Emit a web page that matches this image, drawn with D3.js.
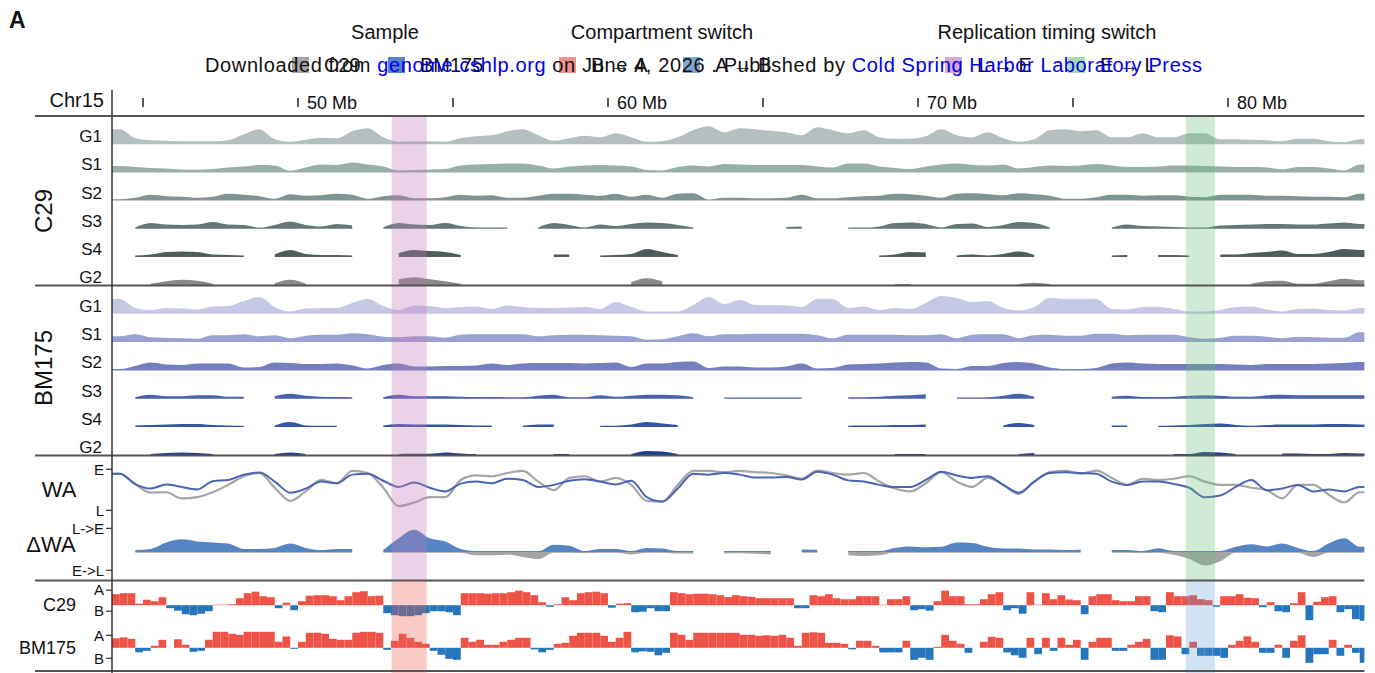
<!DOCTYPE html>
<html>
<head>
<meta charset="utf-8">
<script src="https://cdn.jsdelivr.net/npm/d3@7"></script>
<style>
  body { margin: 0; background: #fff; }
  text { font-family: "Liberation Sans", Arial, Helvetica, sans-serif; fill: #111; }
</style>
</head>
<body>
<svg id="chart" width="1375" height="673"></svg>
<script>
// Chr15 region, 0.5 Mb bins starting at 44 Mb (Repli-seq signal, WA, dWA)
const binStart = 44.0;
const binSize = 0.5;
// compartment eigenvector bins of 0.25 Mb
const compBinSize = 0.25;

const phases = ["G1", "S1", "S2", "S3", "S4", "G2"];

const c29G1 = [14,5,3,2.5,2,2,2,3,9,14, 4,1.5,3.5,5.5,5,12,15,6,1.5,2, 2,1.5,5,7,8,12,14,8,2.5,5, 7.5,6,10,6,1.5,2,6,13,17,11, 15,14,12.5,11,8,16,13,10,13,6, 4.5,4.5,7,14,8,6,11,5,1.5,4, 13,14,12,13,6,6,10,6,6,10, 10,4,4,3.5,3,2,4.5,4.5,2,1, 4];
const c29S1 = [5.5,4.5,3.5,3,2,1.8,2.5,4,5,6.5, 6,0.8,4,7,6.5,9,7,5,1,1.5, 2,2.5,6,7,7.5,8,8,6,3,5, 6,6.5,6,5,1.5,1,4.5,6,5,7.5, 7,6.5,6.5,6.5,6.5,5,4,8,8,5, 3.5,2.5,5,7,8,6.5,6,7,3,4.5, 6,5.5,6,7.5,6,4.5,4.5,5,6,6, 5.5,5,4.5,4.5,4,2,4.5,4.5,3,1, 7];
const c29S2 = [0.5,2,5,3.5,3,2,3,6,5,3.5, 1,5.5,4,4.5,6,5,1,3.5,4.5,1.5, 1.5,2.5,5,4,4.5,2,2,4,6,6, 5,4,6,3,5,2,6,6.5,0.3,2, 2,1.5,1.5,2,5,1.5,1.5,2.5,3.5,4, 6,5.5,4,2,6,6.5,5.5,4.5,6.5,5.5, 4,1,1,2.5,5,5,4,4.5,4.5,3, 2.5,5,5,5,4,4,3.5,3,3,2.5, 6];
const c29S3 = [null,0.5,5,3.5,3,3.5,6,3.5,3,0.3, 3,6.5,3,1.5,4,2.5,null,0.5,5,3.5, 3,5,2,0.5,0.5,0.3,null,0.5,5,3, 0.5,3.5,2,4,5.5,5,3,0.5,null,0.3, null,0.3,null,1,1.5,null,null,0.3,0.3,1.5, 5,5.5,4,0.5,4,4.5,1,3,6,5, 0.5,null,null,null,0.5,3.5,2,1.5,1,0.5, 0.5,2.5,3,3.5,4,4,3.5,3.5,4.5,5.5, 4];
const c29S4 = [null,0.5,1.5,4,4.5,4,1.5,1,0.5,null, 1.5,6,2,1,1,0.5,null,null,3,6, 5,4,1,null,null,null,null,null,1.5,1.5, null,0.5,1,2,7,4,1,null,null,null, null,null,null,null,0.3,null,null,null,null,0.5, 1.5,4,3.5,null,0.5,1.5,0.5,2,4.5,1, null,null,null,null,0.5,1,null,1,1,0.5, null,1.5,1.5,3,4,5.5,2,2,4,7, 6];
const c29G2 = [null,null,0.5,3,4.5,3.5,0.5,null,null,null, 1,4.5,0.5,null,null,null,null,null,5,7, 5,3,0.5,null,null,null,null,null,null,null, null,null,null,2,6,3,null,null,null,null, null,null,null,null,null,null,null,null,null,null, 0.3,0.3,null,null,null,null,null,null,0.3,1.5, 0.3,null,null,null,null,null,null,null,null,null, null,null,null,0.5,3,3.5,0.5,0.5,3,5.5, 4];

const bmG1 = [14,5,3,5,4.5,3.5,6.5,7,12,16, 6,1.5,4.5,5,5,10,14,7,3,7.5, 7,5,6,6.5,4,7.5,6,5,5,5.5, 6,4,11,6,1.5,1.5,1.5,8,16,9, 13,8,8,7.5,6,14,14,5,6.5,3, 5,4,10,17,15,11,12,5,2.5,6, 15,14,14,14,4,3.5,6,6,4,1.5, 1.5,3,6,6.5,3.5,1.5,4,4.5,3,2.5, 5];
const bmS1 = [5,7,4,3.5,3,2.5,6,6,7,5, 6,3,5.5,6.5,6.5,8,7,4.5,4,5, 5,3.5,6.5,7,7,7,7,5,6,6.5, 6.5,6,5.5,5,1.5,2,5,8,5,7, 7,7.5,7.5,7.5,7.5,6,3,6.5,6.5,6.5, 6.5,6,6,7,3,6.5,7,7,3,6, 6.5,5.5,5.5,7.5,7.5,6,6.5,6.5,6.5,4, 2.5,3.5,5.5,5.5,4.5,3,4.5,4,3.5,3.5, 9];
const bmS2 = [0.5,3.5,7,5,4.5,6,6,6,2,2.5, 7,6.5,5.5,5.5,6,4,1,4.5,6,3, 3,3.5,3.5,4,6,4.5,6,6.5,6.5,6.5, 6,6.5,7,2.5,6,6,7.5,8,1.5,3, 3,2,2,3,6,1,1.5,5,5.5,6, 7,7.5,7,1,0.5,3.5,3.5,6.5,7.5,6, 2,0.5,0.5,1.5,6,7,6,5.5,5.5,5.5, 5.5,5.5,5,4.5,5.5,5.5,5.5,5.5,6,6.5, 7.5];
const bmS3 = [null,0.5,3,1.5,1.5,2.5,2.5,1,1,null, 1.5,4,2,1,0.7,0.5,null,0.5,3,1.5, 1.5,1.5,1,0.7,0.7,0.5,0.5,2,3,0.5, 0.5,2.5,1,2,3,3,2.5,0.5,null,0.3, 0.3,0.3,0.3,0.3,0.3,null,null,0.5,0.5,1, 2,2.5,3.5,null,0.3,0.3,0.5,2,4,1, null,null,null,null,1,2,0.7,0.7,1,2, 2.5,2,1,1,2.5,3,2.5,2.5,2.5,2.5, 2.5];
const bmS4 = [null,0.5,1,1.5,2,2,1,0.5,0.3,null, 0.5,4,0.7,0.3,0.3,null,null,0.5,2,1.5, 1.5,1.5,1,0.5,0.5,null,0.3,1.5,1.5,null, null,0.3,0.3,1.5,4,2.5,1,null,null,null, null,null,null,null,null,null,null,0.3,0.5,0.5, 1,1,1.5,null,null,null,null,0.5,3,1, null,null,null,null,0.5,0.5,null,0.3,0.5,1, 2,2.5,1,0.3,1,1.5,1.5,1.5,2,2, 1.5];
const bmG2 = [null,null,0.3,1.5,2,1.5,0.3,null,null,null, 0.3,2,0.5,null,null,null,null,null,0.5,0.7, 0.7,2,1,0.3,null,null,null,null,0.3,0.3, null,null,null,0.5,3.5,3,0.5,null,null,null, null,null,null,null,null,null,null,null,null,null, 0.3,0.5,0.3,null,null,null,null,null,0.5,1.5, null,null,null,null,null,null,null,null,0.3,0.5, 2.5,2,0.3,null,null,1,1,0.5,0.5,1.5, 1];

// weighted average replication timing (1 = early, 0 = late)
const waC29 = [0.89,0.64,0.43,0.44,0.29,0.32,0.44,0.62,0.83,0.91, 0.55,0.23,0.46,0.74,0.66,0.96,0.91,0.55,0.10,0.19, 0.32,0.32,0.74,0.85,0.83,0.91,0.96,0.70,0.49,0.79, 0.83,0.70,0.79,0.62,0.23,0.21,0.62,0.96,0.96,0.93, 0.96,0.93,0.91,0.85,0.77,0.97,0.91,0.87,0.91,0.70, 0.53,0.46,0.66,0.93,0.70,0.57,0.79,0.62,0.40,0.70, 0.93,0.96,0.89,0.97,0.79,0.62,0.77,0.74,0.77,0.83, 0.70,0.62,0.62,0.55,0.49,0.29,0.62,0.62,0.38,0.19, 0.44];
const waBM175 = [0.89,0.64,0.53,0.63,0.57,0.51,0.71,0.74,0.87,0.92, 0.70,0.43,0.53,0.70,0.66,0.87,0.89,0.72,0.57,0.68, 0.55,0.46,0.65,0.70,0.66,0.77,0.74,0.57,0.62,0.72, 0.76,0.70,0.63,0.72,0.32,0.21,0.53,0.89,0.87,0.91, 0.87,0.80,0.80,0.81,0.75,0.94,0.87,0.73,0.70,0.62, 0.57,0.57,0.74,0.94,0.85,0.79,0.83,0.62,0.43,0.70, 0.91,0.93,0.91,0.89,0.70,0.62,0.70,0.70,0.64,0.55, 0.32,0.36,0.57,0.74,0.49,0.53,0.62,0.46,0.51,0.46, 0.57];
const deltaWA = [null,0.05,0.1,0.4,0.55,0.45,0.4,0.35,0.1,0.1, 0.15,0.35,0.15,0.05,0.1,0.1,null,0.05,0.6,1.0, 0.6,0.45,0.1,-0.12,-0.12,-0.1,-0.2,-0.3,0.3,0.25, -0.03,0.1,0.1,-0.08,0.15,0.12,-0.04,-0.04,null,-0.04, -0.03,-0.05,-0.08,null,0.07,0.06,null,-0.12,-0.15,-0.12, 0.15,0.22,0.18,0.2,0.4,0.38,0.2,0.12,0.12,0.08, 0.08,0.05,0.06,null,0.05,0.05,-0.03,0.13,-0.1,-0.3, -0.6,-0.4,0.2,0.32,0.22,0.35,0.15,-0.2,0.35,0.6, 0.2];
const deltaTicks = [{ label: "L->E", v: 1.1 }, { label: "E->L", v: -0.86 }];

// compartment PC1 (x100)
const compC29 = [11,12,12,1.5,5.5,4,8,-3,-5.5,-9, -10,-8.5,-6,0.5,0.5,1,7,12,13.5,9, 8,-3,2.5,-5,4,9.5,10,10,9,5, 9,13,14,9,9.5,-8,-10,-11,-11,-10, -8,-6,-6,-7,-10,12,12,12,11.5,12, 12,13,14.5,13,10,3,-1.5,1,8,5, 12,13,13.5,12,-2.5,1.5,2,-7,-6.5,-3, -6,-6,13,12,11,11.5,11.5,11,10,8, 10,9,8.5,7,7,7,7,7,-3,-3, 10,9,11,7,6,6,9,9,9,0.5, 6,6,9,-5,-4,-5.5,4,14.5,9,9, 1,1,6,11,13,-5,-3,-8.5,13,0.5, 12,6,10,5.7,5,-9,9,11,11,5, 4,4,9,9,-6,-7,13,9,9,10, 6,5,-1.5,9,9,11,7.5,7,-2,3, -6,-7,2,13,-15,3.5,8,9,-7,-4, -14,-15.5];
const compBM175 = [9.5,10.5,9,-4.5,-3,2,8,0,8.5,3, -4,-3,8,16,16,14,13,16,16,16, 16,6,11.4,-1,6,15,15,14,9,8, 8,15,16,16,15,-2,7,14,10,6, 4,-3,-7,-11,-12,10,6,8,3,3, 6,8,10,10,-1.5,-4.5,-2,4,5,12, 15,15,15,12,6,10,16,-4.5,-3.5,-4, -7.5,-5,15,13,8,15,15,15,15,15, 15,13,13,12,12.5,12,13,10,2,15, 15.5,15,5,5,4,-1.5,7,7,2,-4.6, -4.6,-4.6,7,-12,-10,-12,1,13,7,4, -5,0,6,11,10,-4.6,-7.5,-10,10,-6.4, 10,-3,10,3,8,-12,6,10,10,-3, -3,3,6,9,-12,-12,12.5,11.4,-6.4,6, -8,-8,-8,-10,3,7,11.4,6,-5,-5, 3,-10,7,12.5,-15,-6.4,-6.4,8,-8,3, -5,-15];
const compTicks = { C29: { A: 15, B: -6 }, BM175: { A: 12.5, B: -10.5 } };

// switching regions (Mb)
const rtSwitches = [{ start: 53.02, end: 54.15, type: "L → E" }, { start: 78.64, end: 79.58, type: "E → L" }];
const compSwitches = [{ start: 53.02, end: 54.15, type: "B → A" }, { start: 78.64, end: 79.58, type: "A → B" }];

const axisTicks = [45, 50, 55, 60, 65, 70, 75, 80];
const axisLabels = [50, 60, 70, 80];

// colours
const c29Colors = ["#b3c0bf", "#9aaeab", "#7d9594", "#637977", "#4c5d5b", "#8a8a8a"];
const bmColors = ["#c5c9e6", "#9aa2d3", "#7480bd", "#4a62ad", "#3454a4", "#1f3f95"];
const switchFill = {
    "L → E": "rgba(190,120,185,0.33)",
    "E → L": "rgba(100,190,110,0.30)",
    "B → A": "rgba(240,90,80,0.32)",
    "A → B": "rgba(90,150,210,0.28)"
};

var svg = d3.select("#chart");

var x = d3.scaleLinear().domain([44.0, 84.4]).range([112, 1364.4]);
const plotLeft = 112, plotRight = 1364.4, lineLeft = 35;

// points at bin centres, stretched to the panel edges
function trackPoints(values) {
    const pts = values.map((v, k) => ({ mb: binStart + binSize * k + binSize / 2, v: v }));
    pts.unshift({ mb: x.domain()[0], v: values[0] });
    pts.push({ mb: x.domain()[1], v: values[values.length - 1] });
    return pts;
}

// ---- Title / legend ----
svg.append("text").attr("x", 9).attr("y", 28)
    .style("font-size", "23px").style("font-weight", "bold").text("A");

const legendGroups = [
    { title: "Sample", cx: 385, items: [{ label: "C29", color: "#a6a6a6", sx: 292 }, { label: "BM175", color: "#5585c5", sx: 388 }] },
    { title: "Compartment switch", cx: 662, items: [{ label: "B → A", color: "#f3928b", sx: 559 }, { label: "A → B", color: "#7ba7d2", sx: 683 }] },
    { title: "Replication timing switch", cx: 1047, items: [{ label: "L → E", color: "#d6a9d4", sx: 945 }, { label: "E → L", color: "#a9d9b2", sx: 1068 }] }
];

legendGroups.forEach(g => {
    svg.append("text").attr("x", g.cx).attr("y", 39)
        .style("font-size", "20px").style("text-anchor", "middle").text(g.title);
    g.items.forEach(it => {
        svg.append("rect").attr("x", it.sx).attr("y", 57).attr("width", 17).attr("height", 16)
            .attr("fill", it.color);
        svg.append("text").attr("x", it.sx + 32).attr("y", 72)
            .style("font-size", "20px").text(it.label);
    });
});

// download stamp that sits over the legend in the original figure
var stamp = svg.append("text").attr("x", 205).attr("y", 72)
    .style("font-size", "20px").attr("textLength", 997).attr("lengthAdjust", "spacing");
stamp.append("tspan").text("Downloaded from ");
stamp.append("tspan").style("fill", "#0000ee").text("genome.cshlp.org");
stamp.append("tspan").text(" on June 4, 2026 . Published by ");
stamp.append("tspan").style("fill", "#0000ee").text("Cold Spring Harbor Laboratory Press");

// ---- Genome axis ----
svg.append("text").attr("x", 104).attr("y", 107)
    .style("font-size", "20px").style("text-anchor", "end").text("Chr15");

svg.selectAll(".tick").data(axisTicks).enter().append("line")
    .attr("class", "tick")
    .attr("x1", d => x(d)).attr("x2", d => x(d))
    .attr("y1", 98).attr("y2", 107)
    .attr("stroke", "#222").attr("stroke-width", 1.5);

svg.selectAll(".tickLabel").data(axisLabels).enter().append("text")
    .attr("class", "tickLabel")
    .attr("x", d => x(d) + 9).attr("y", 109)
    .style("font-size", "18px").text(d => d + " Mb");

// ---- Repli-seq tracks ----
function drawSample(sample, tracks, colors, top, step, labelY) {
    tracks.forEach((vals, i) => {
        const base = top + step * (i + 1);
        const yT = d3.scaleLinear().domain([0, 20]).range([base, base - 20]);
        const area = d3.area()
            .defined(d => d.v !== null)
            .x(d => x(d.mb))
            .y0(base)
            .y1(d => yT(d.v) - 0.9)
            .curve(d3.curveMonotoneX);
        svg.append("path").datum(trackPoints(vals))
            .attr("d", area).attr("fill", colors[i]);
        svg.append("text").attr("x", 102).attr("y", base - 2)
            .style("font-size", "17px").style("text-anchor", "end").text(phases[i]);
    });
    svg.append("text")
        .attr("transform", `translate(52,${labelY}) rotate(-90)`)
        .style("font-size", "24px").style("text-anchor", "middle").text(sample);
}

drawSample("C29", [c29G1, c29S1, c29S2, c29S3, c29S4, c29G2], c29Colors, 116, 28.2, 211);
drawSample("BM175", [bmG1, bmS1, bmS2, bmS3, bmS4, bmG2], bmColors, 285.5, 28.3, 368);

// ---- WA ----
var yWA = d3.scaleLinear().domain([0, 1]).range([510.3, 469.3]);
var waLine = d3.line().x(d => x(d.mb)).y(d => yWA(d.v)).curve(d3.curveMonotoneX);

svg.append("path").datum(trackPoints(waC29)).attr("d", waLine)
    .attr("fill", "none").attr("stroke", "#a6a6a6").attr("stroke-width", 2.2);
svg.append("path").datum(trackPoints(waBM175)).attr("d", waLine)
    .attr("fill", "none").attr("stroke", "#4b64b4").attr("stroke-width", 2);

// ---- delta WA ----
const dBase = 551.9;
var yD = d3.scaleLinear().domain([-1, 1]).range([dBase + 21.4, dBase - 21.4]);
const dPts = trackPoints(deltaWA);
var posArea = d3.area().defined(d => d.v !== null).x(d => x(d.mb))
    .y0(dBase).y1(d => yD(Math.max(d.v, 0)) - 0.8).curve(d3.curveMonotoneX);
var negArea = d3.area().defined(d => d.v !== null).x(d => x(d.mb))
    .y0(dBase).y1(d => yD(Math.min(d.v, 0)) + 0.8).curve(d3.curveMonotoneX);
svg.append("path").datum(dPts).attr("d", negArea).attr("fill", "#a5a5a5");
svg.append("path").datum(dPts).attr("d", posArea).attr("fill", "#5585c3");

function sideTick(y, label, size) {
    svg.append("line").attr("x1", 106).attr("x2", 112).attr("y1", y).attr("y2", y)
        .attr("stroke", "#333").attr("stroke-width", 1.2);
    svg.append("text").attr("x", 104).attr("y", y).attr("dy", "0.35em")
        .style("font-size", size).style("text-anchor", "end").text(label);
}
sideTick(yWA(1), "E", "15px");
sideTick(yWA(0), "L", "15px");
deltaTicks.forEach(t => sideTick(yD(t.v), t.label, "15px"));

svg.append("text").attr("x", 59).attr("y", 497)
    .style("font-size", "22px").style("text-anchor", "middle").text("WA");
svg.append("text").attr("x", 51).attr("y", 552)
    .style("font-size", "22px").style("text-anchor", "middle").text("ΔWA");

// ---- Compartments ----
function drawComp(name, vals, base, labelX) {
    const yC = d3.scaleLinear().domain([-20, 20]).range([base + 20, base - 20]);
    svg.selectAll(".bar-" + name).data(vals).enter().append("rect")
        .attr("class", "bar-" + name)
        .attr("x", (d, j) => x(binStart + compBinSize * j))
        .attr("width", (d, j) => Math.min(x(binStart + compBinSize * (j + 1)), plotRight) - x(binStart + compBinSize * j))
        .attr("y", d => d >= 0 ? yC(d) : base)
        .attr("height", d => Math.abs(yC(d) - base))
        .attr("fill", d => d >= 0 ? "#ef5348" : "#2576bc");
    sideTick(yC(compTicks[name].A), "A", "15px");
    sideTick(yC(compTicks[name].B), "B", "15px");
    svg.append("text").attr("x", labelX).attr("y", base + 6)
        .style("font-size", "18px").style("text-anchor", "end").text(name);
}
drawComp("C29", compC29, 605.2, 76);
drawComp("BM175", compBM175, 647.8, 76);

// ---- highlighted switches ----
svg.selectAll(".rtBand").data(rtSwitches).enter().append("rect")
    .attr("class", "rtBand")
    .attr("x", d => x(d.start)).attr("width", d => x(d.end) - x(d.start))
    .attr("y", 117).attr("height", 580.5 - 117)
    .attr("fill", d => switchFill[d.type]);
svg.selectAll(".compBand").data(compSwitches).enter().append("rect")
    .attr("class", "compBand")
    .attr("x", d => x(d.start)).attr("width", d => x(d.end) - x(d.start))
    .attr("y", 580.5).attr("height", 673 - 580.5)
    .attr("fill", d => switchFill[d.type]);

// ---- frame lines ----
[116, 285.5, 455.5, 580.5, 671].forEach(y => {
    svg.append("line").attr("x1", lineLeft).attr("x2", plotRight).attr("y1", y).attr("y2", y)
        .attr("stroke", "#555").attr("stroke-width", 2);
});
svg.append("line").attr("x1", plotLeft).attr("x2", plotLeft).attr("y1", 90).attr("y2", 673)
    .attr("stroke", "#333").attr("stroke-width", 1.5);
</script>
</body>
</html>
